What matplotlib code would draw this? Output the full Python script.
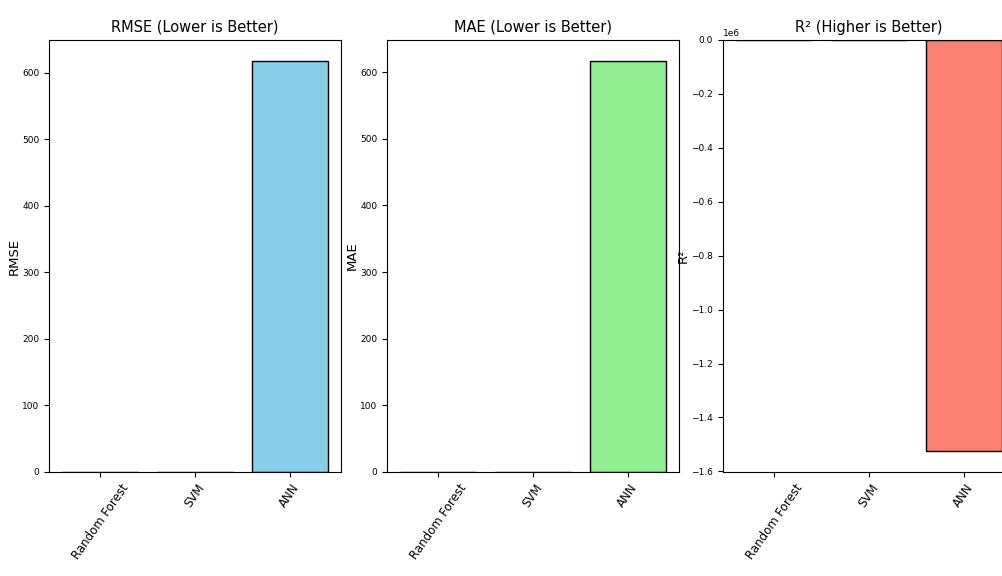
import numpy as np
import matplotlib
matplotlib.use("Agg")
import matplotlib.pyplot as plt

models = ["Random Forest", "SVM", "ANN"]
rmse = [0.45, 0.6, 618.0]
mae = [0.3, 0.45, 617.5]
r2 = [-0.35, -1.1, -1.526e6]

panels = [
    (rmse, "RMSE", "RMSE (Lower is Better)", "skyblue"),
    (mae, "MAE", "MAE (Lower is Better)", "lightgreen"),
    (r2, "R²", "R² (Higher is Better)", "salmon"),
]

fig = plt.figure(figsize=(10.03, 5.76), dpi=100)
lefts = [0.0489, 0.3858, 0.7208]

for left, (vals, ylab, title, color) in zip(lefts, panels):
    ax = fig.add_axes([left, 0.1806, 0.291, 0.75])
    ax.bar(models, vals, color=color, edgecolor="black", linewidth=1)
    ax.set_title(title, fontsize=10.5)
    ax.set_ylabel(ylab, fontsize=9.5, labelpad=1)
    ax.tick_params(axis="y", labelsize=6.5)
    ax.tick_params(axis="x", labelsize=8.5)
    ax.yaxis.get_offset_text().set_fontsize(6.5)
    plt.setp(ax.get_xticklabels(), rotation=55)

plt.savefig("out.png", dpi=100)
